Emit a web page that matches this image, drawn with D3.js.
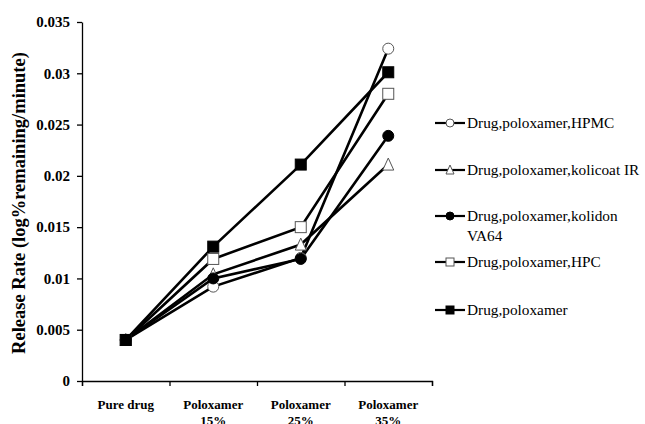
<!DOCTYPE html>
<html><head><meta charset="utf-8">
<script src="https://cdn.jsdelivr.net/npm/d3@7"></script>
<style>body{margin:0;background:#fff}svg{display:block}</style>
</head><body><svg id="c" width="645" height="424"></svg>
<script>
const categories = [["Pure drug"], ["Poloxamer","15%"], ["Poloxamer","25%"], ["Poloxamer","35%"]];
const seriesNames = ["Drug,poloxamer,HPMC","Drug,poloxamer,kolicoat IR","Drug,poloxamer,kolidon VA64","Drug,poloxamer,HPC","Drug,poloxamer"];
const hpmc     = [0.004, 0.0092, 0.0120, 0.0324];
const kolicoat = [0.004, 0.0104, 0.0133, 0.0211];
const kolidon  = [0.004, 0.0100, 0.0119, 0.0239];
const hpc      = [0.004, 0.0119, 0.0150, 0.0280];
const polox    = [0.004, 0.0131, 0.0211, 0.0301];
const yTicks = [0, 0.005, 0.01, 0.015, 0.02, 0.025, 0.03, 0.035];
const yTickLabels = ["0","0.005","0.01","0.015","0.02","0.025","0.03","0.035"];

const series = [
  {name: seriesNames[0], values: hpmc, shape: "circle", fill: "#fff"},
  {name: seriesNames[1], values: kolicoat, shape: "triangle", fill: "#fff"},
  {name: seriesNames[2], values: kolidon, shape: "circle", fill: "#000"},
  {name: seriesNames[3], values: hpc, shape: "square", fill: "#fff"},
  {name: seriesNames[4], values: polox, shape: "square", fill: "#000"}
];

const svg = d3.select("#c");
const L = 82, R = 432, T = 22, B = 381;
const x = d3.scaleBand().domain(d3.range(categories.length)).range([L, R]);
const y = d3.scaleLinear().domain([0, 0.035]).range([B, T]);
const serif = "'Liberation Serif','Times New Roman',serif";

// axes
const yAxis = d3.axisLeft(y).tickValues(yTicks).tickFormat((d,i)=>yTickLabels[i]).tickSize(5).tickSizeOuter(0).tickPadding(7);
const gy = svg.append("g").attr("transform",`translate(${L},0)`).call(yAxis);
gy.selectAll("text").attr("font-family",serif).attr("font-weight","bold").attr("font-size","15px").attr("fill","#000");
gy.selectAll("line,path").attr("stroke","#000").attr("stroke-width",1.3);

const xAxis = d3.axisBottom(d3.scaleLinear().domain([0,4]).range([L,R])).tickValues([0,1,2,3,4]).tickSize(5).tickFormat("");
const gx = svg.append("g").attr("transform",`translate(0,${B})`).call(xAxis);
gx.selectAll("line,path").attr("stroke","#000").attr("stroke-width",1.3);

// x labels
categories.forEach((lines,i)=>{
  const t = svg.append("text").attr("x", x(i)+x.bandwidth()/2).attr("y", 409)
    .attr("text-anchor","middle").attr("font-family",serif).attr("font-weight","bold").attr("font-size","13px");
  lines.forEach((ln,j)=>t.append("tspan").attr("x", x(i)+x.bandwidth()/2).attr("dy", j===0?0:16).text(ln));
});

// y title
svg.append("text").attr("transform","translate(25,203) rotate(-90)").attr("text-anchor","middle")
  .attr("font-family",serif).attr("font-weight","bold").attr("font-size","18.5px")
  .text("Release Rate (log%remaining/minute)");

const cx = i => x(i) + x.bandwidth()/2;
const line = d3.line().x((d,i)=>cx(i)).y(d=>y(d));

function marker(g, s, px, py, size){
  const stroke = s.fill === "#fff" ? "#555" : "#000";
  if (s.shape === "circle") {
    g.append("circle").attr("cx",px).attr("cy",py).attr("r",size/2).attr("fill",s.fill).attr("stroke",stroke).attr("stroke-width",1);
  } else if (s.shape === "square") {
    g.append("rect").attr("x",px-size/2).attr("y",py-size/2).attr("width",size).attr("height",size).attr("fill",s.fill).attr("stroke",stroke).attr("stroke-width",1);
  } else {
    const h = size;
    g.append("path").attr("d",`M${px},${py-h/2-1}L${px+h/2},${py+h/2}L${px-h/2},${py+h/2}Z`).attr("fill",s.fill).attr("stroke",stroke).attr("stroke-width",1);
  }
}

const plot = svg.append("g");
series.forEach(s=>{
  plot.append("path").datum(s.values).attr("d",line).attr("fill","none").attr("stroke","#000").attr("stroke-width",2.6);
});
series.forEach(s=>{
  s.values.forEach((v,i)=>marker(plot, s, cx(i), y(v), 11));
});

// legend
const legY = [123, 170, 216, 262, 310];
const lg = svg.append("g");
series.forEach((s,i)=>{
  const ly = legY[i];
  lg.append("line").attr("x1",435).attr("x2",465).attr("y1",ly).attr("y2",ly).attr("stroke","#000").attr("stroke-width",2.2);
  marker(lg, s, 450, ly, 8);
  const t = lg.append("text").attr("x",467).attr("y",ly+5).attr("font-family",serif).attr("font-size","15.3px").attr("fill","#000");
  if (i === 2) {
    t.append("tspan").attr("x",467).text("Drug,poloxamer,kolidon");
    t.append("tspan").attr("x",467).attr("dy",20).text("VA64");
  } else t.text(s.name);
});
</script></body></html>
